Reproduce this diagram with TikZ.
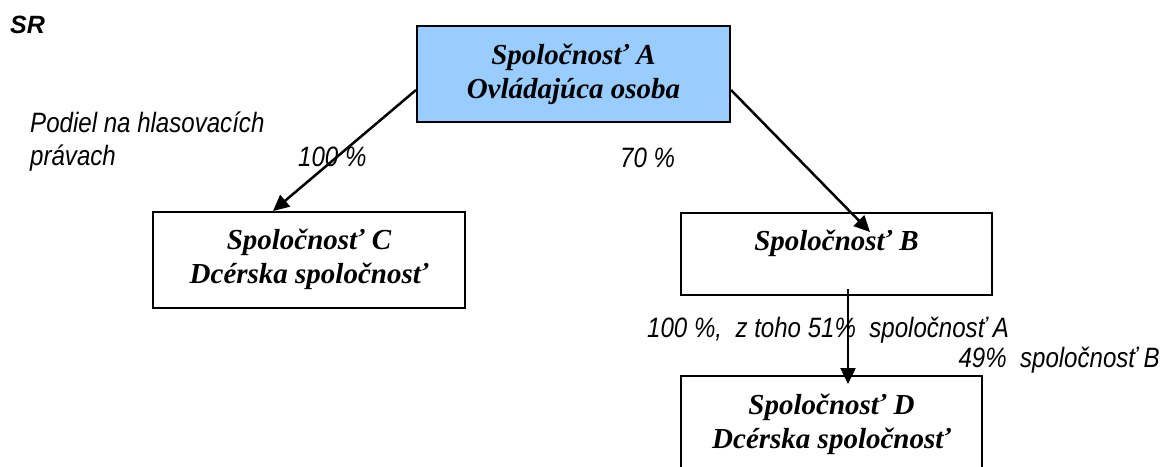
\documentclass[tikz,border=0pt]{standalone}
\usepackage{fontspec}
\setmainfont{Liberation Serif}
\newfontfamily\labfont[FakeStretch=0.86]{Liberation Sans}
\newfontfamily\srfont{Liberation Sans}
\usetikzlibrary{arrows.meta}
\definecolor{boxblue}{HTML}{99CCFF}
\tikzset{
  box/.style={draw=black, line width=2pt, rectangle, inner sep=0pt},
  boxtext/.style={align=center, inner sep=0pt, font=\fontsize{29}{34}\selectfont\bfseries\itshape},
  lab/.style={inner sep=0pt, font=\labfont\fontsize{28}{33}\selectfont\itshape},
  conn/.style={line width=2.5pt, -{Triangle[length=16pt,width=15pt]}}
}
\begin{document}
\begin{tikzpicture}[x=1pt,y=-1pt]
\useasboundingbox (0,0) rectangle (1165,466);
\clip (0,0) rectangle (1165,466);
% boxes
\node[box, fill=boxblue, minimum width=313pt, minimum height=96pt] (A) at (573.5,74) {};
\node[box, minimum width=312pt, minimum height=96pt] (C) at (309,260) {};
\node[box, minimum width=311pt, minimum height=82pt] (B) at (836.5,254) {};
\node[box, minimum width=301pt, minimum height=96pt] (D) at (831.5,424) {};
% box texts (base anchor = baseline of last line)
\node[boxtext, anchor=base] (At) at (573.5,98) {Spoločnosť A\\Ovládajúca osoba};
\node[boxtext, anchor=base] (Ct) at (309,283) {Spoločnosť C\\Dcérska spoločnosť};
\node[boxtext, anchor=base] (Bt) at (836.5,250) {Spoločnosť B};
\node[boxtext, anchor=base] (Dt) at (831.5,448) {Spoločnosť D\\Dcérska spoločnosť};
% connectors
\draw[conn] ([yshift=-16pt]A.west) -- ([xshift=-36pt]C.north);
\draw[conn] ([yshift=-16pt]A.east) -- ([xshift=33.5pt,yshift=-20pt]B.north);
\draw[conn] ([xshift=11.5pt,yshift=7pt]B.south) -- ([xshift=16.5pt,yshift=-9pt]D.north);
% labels
\node[inner sep=0pt, anchor=base west, font=\srfont\fontsize{25}{30}\selectfont\bfseries\itshape] (sr) at (10,33) {SR};
\node[lab, anchor=base west, align=left] (pod) at (30,165) {Podiel na hlasovacích\\právach};
\node[lab, anchor=base west] (p100) at (298,166) {100 \%};
\node[lab, anchor=base west] (p70) at (620,167) {70 \%};
\node[lab, anchor=base west] (p51) at (647,337) {100 \%,\ \ z toho 51\%\ \ spoločnosť A};
\node[lab, anchor=base east] (p49) at (1160,367) {49\%\ \ spoločnosť B};
\end{tikzpicture}
\end{document}
